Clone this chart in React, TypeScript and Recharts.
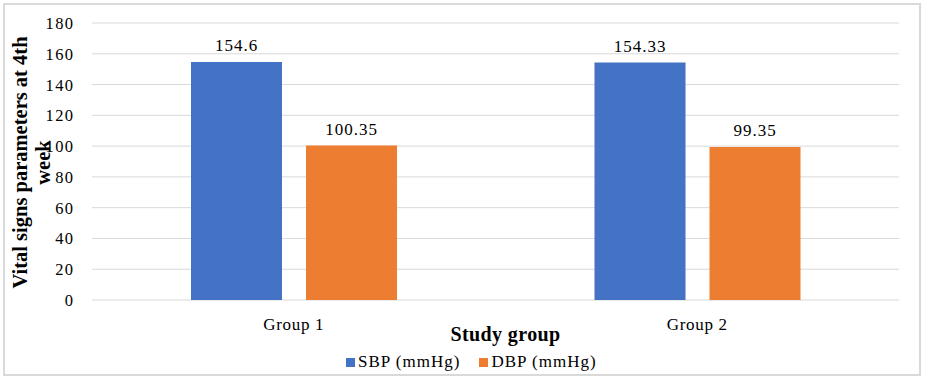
import React from 'react';
import { BarChart, Bar, XAxis, YAxis, CartesianGrid, LabelList, Label } from 'recharts';

const categories = ['Group 1', 'Group 2'];
const sbpValues = [154.6, 154.33];
const dbpValues = [100.35, 99.35];
const seriesNames = ['SBP (mmHg)', 'DBP (mmHg)'];
const seriesColors = ['#4472C4', '#ED7D31'];
const yTicks = [0, 20, 40, 60, 80, 100, 120, 140, 160, 180];
const yTitleLines = ['Vital signs parameters at 4th', 'week'];
const xTitle = 'Study group';

const data = categories.map((c, i) => ({ group: c, sbp: sbpValues[i], dbp: dbpValues[i] }));

const FONT = '"Liberation Serif", "Times New Roman", serif';

const XTick = (props: any) => {
  const { x, y, payload } = props;
  return (
    <text x={x} y={y + 22} textAnchor="middle" fontFamily={FONT} fontSize={17} letterSpacing={0.7} fill="#000">
      {payload.value}
    </text>
  );
};

const YTick = (props: any) => {
  const { x, y, payload } = props;
  return (
    <text x={x - 9.5} y={y + 6} textAnchor="end" fontFamily={FONT} fontSize={16.5} letterSpacing={1.4} fill="#000">
      {payload.value}
    </text>
  );
};

const YTitle = (props: any) => {
  const vb = props.viewBox;
  const cy = vb.y + vb.height / 2 + 1;
  const x1 = vb.x - 12.5;
  const x2 = vb.x + 11;
  return (
    <g>
      <text x={x1} y={cy} transform={`rotate(-90, ${x1}, ${cy})`} textAnchor="middle" dominantBaseline="central" fontFamily={FONT} fontWeight="bold" fontSize={20.5} fill="#000">
        {yTitleLines[0]}
      </text>
      <text x={x2} y={cy} transform={`rotate(-90, ${x2}, ${cy})`} textAnchor="middle" dominantBaseline="central" fontFamily={FONT} fontWeight="bold" fontSize={20.5} fill="#000">
        {yTitleLines[1]}
      </text>
    </g>
  );
};

const XTitle = (props: any) => {
  const vb = props.viewBox;
  return (
    <text x={vb.x + vb.width / 2 + 10} y={vb.y + 41} textAnchor="middle" fontFamily={FONT} fontWeight="bold" fontSize={20} letterSpacing={0.4} fill="#000">
      {xTitle}
    </text>
  );
};

export default function App() {
  return (
    <div style={{ position: 'fixed', left: 0, top: 0, width: 925, height: 379, background: '#fff' }}>
      <div style={{ position: 'absolute', left: 3, top: 3, width: 914, height: 369, border: '2px solid #d9d9d9' }} />
      <BarChart
        width={925}
        height={379}
        data={data}
        margin={{ top: 23, right: 26, left: 32, bottom: 49 }}
        barSize={91}
        barGap={24}
        style={{ position: 'absolute', left: 0, top: 0 }}
      >
        <CartesianGrid vertical={false} stroke="#d9d9d9" strokeWidth={1} />
        <XAxis dataKey="group" axisLine={false} tickLine={false} height={30} tick={<XTick />} interval={0}>
          <Label content={<XTitle />} />
        </XAxis>
        <YAxis domain={[0, 180]} ticks={yTicks} axisLine={false} tickLine={false} width={60} tick={<YTick />} interval={0}>
          <Label content={<YTitle />} />
        </YAxis>
        <Bar dataKey="sbp" name={seriesNames[0]} fill={seriesColors[0]} isAnimationActive={false}>
          <LabelList dataKey="sbp" position="top" offset={11} fontFamily={FONT} fontSize={17} letterSpacing={1} fill="#000" />
        </Bar>
        <Bar dataKey="dbp" name={seriesNames[1]} fill={seriesColors[1]} isAnimationActive={false}>
          <LabelList dataKey="dbp" position="top" offset={11} fontFamily={FONT} fontSize={17} letterSpacing={1} fill="#000" />
        </Bar>
      </BarChart>
      <div style={{ position: 'absolute', left: 346, top: 351, display: 'flex', alignItems: 'center', fontFamily: FONT, fontSize: 17, letterSpacing: 1, color: '#000', lineHeight: '22px' }}>
        {seriesNames.map((n, i) => (
          <div key={n} style={{ display: 'flex', alignItems: 'center', marginRight: 19 }}>
            <span style={{ display: 'inline-block', width: 9, height: 9, background: seriesColors[i], marginRight: 3 }} />
            <span>{n}</span>
          </div>
        ))}
      </div>
    </div>
  );
}
